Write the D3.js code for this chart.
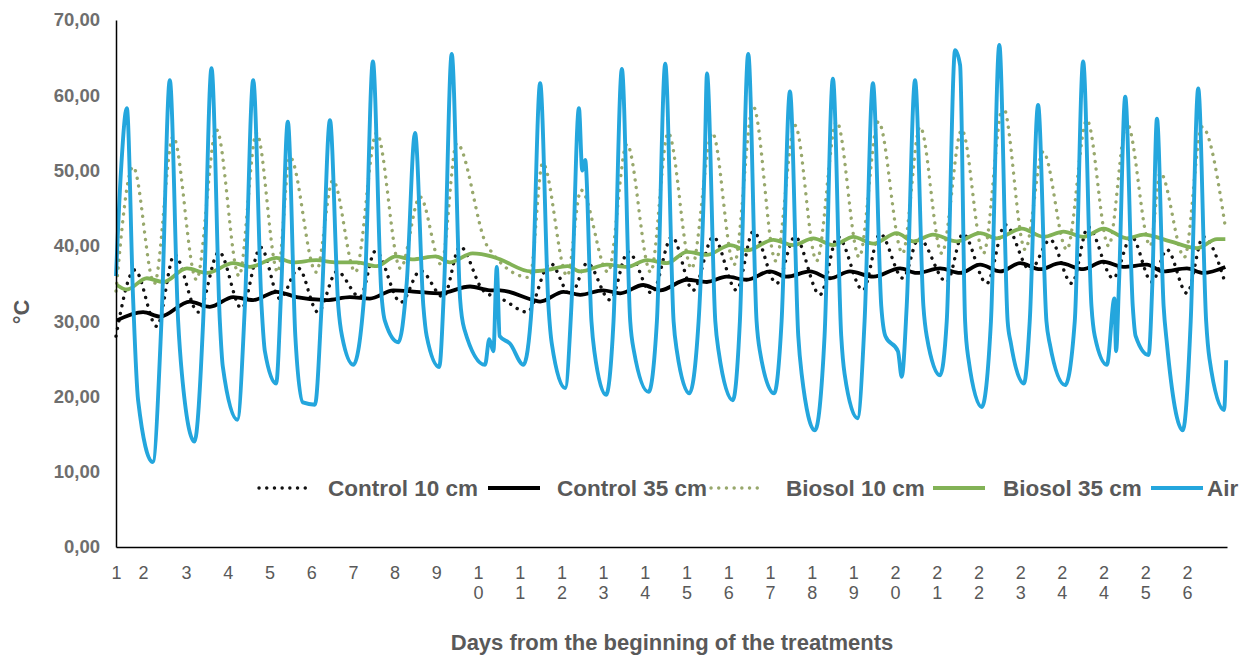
<!DOCTYPE html>
<html>
<head>
<meta charset="utf-8">
<script src="https://cdn.jsdelivr.net/npm/d3@7"></script>
<style>
  body { margin: 0; background: #fff; }
  text { font-family: "Liberation Sans", Arial, sans-serif; }
</style>
</head>
<body>
<svg id="chart" width="1245" height="658"></svg>
<script>
// values; t = days since the start of the record
const tickLabels = ["1","2","3","4","5","6","7","8","9","10","11","12","13","14","15","16","17","18","19","20","21","22","23","24","24","25","26"];
const tickDays = [0, 0.65, 1.68, 2.68, 3.68, 4.68, 5.68, 6.68, 7.68, 8.68, 9.68, 10.68, 11.68, 12.68, 13.68, 14.68, 15.68, 16.68, 17.68, 18.68, 19.68, 20.68, 21.68, 22.68, 23.68, 24.68, 25.68];
const yTicks = [0, 10, 20, 30, 40, 50, 60, 70];

const control10 = [
  [0.00, 28.0], [0.45, 36.8], [0.98, 29.3], [1.40, 38.8], [1.97, 31.2], [2.47, 39.2], [3.01, 31.7],
  [3.47, 39.8], [3.93, 33.0], [4.38, 37.0], [4.84, 31.2], [5.30, 36.6], [5.85, 33.2], [6.22, 39.3],
  [6.83, 32.5], [7.30, 36.7], [7.85, 33.2], [8.25, 39.9], [8.80, 34.1], [9.30, 32.8], [9.86, 31.2],
  [10.41, 37.7], [10.90, 33.5], [11.30, 37.7], [11.85, 32.8], [12.28, 39.2], [12.85, 33.7], [13.33, 41.2],
  [13.84, 34.1], [14.32, 41.2], [14.88, 34.1], [15.28, 41.9], [15.84, 35.0], [16.28, 41.2], [16.88, 33.5],
  [17.31, 41.2], [17.91, 34.1], [18.32, 41.6], [18.87, 35.7], [19.25, 41.0], [19.92, 35.2], [20.31, 41.6],
  [20.88, 35.0], [21.32, 42.8], [21.92, 36.8], [22.40, 40.8], [22.92, 35.0], [23.31, 42.5], [23.91, 35.7],
  [24.35, 41.2], [24.84, 35.2], [25.20, 39.5], [25.68, 33.7], [26.07, 41.2], [26.60, 35.0]
];

const control35 = [
  [0.02, 30.1], [0.65, 31.2], [1.06, 30.6], [1.77, 32.6], [2.25, 31.9], [2.81, 33.2], [3.29, 32.8],
  [3.85, 33.9], [4.33, 33.2], [5.05, 32.8], [5.61, 33.2], [6.09, 33.0], [6.65, 34.1], [7.21, 33.9],
  [7.77, 33.7], [8.49, 34.6], [8.97, 34.1], [9.21, 34.1], [10.01, 32.8], [10.17, 32.6], [10.73, 33.9],
  [11.13, 33.5], [11.68, 34.1], [12.09, 33.7], [12.64, 34.8], [13.05, 34.1], [13.69, 35.5], [14.17, 35.2],
  [14.64, 35.9], [15.12, 35.5], [15.68, 36.6], [16.08, 35.9], [16.64, 36.6], [17.12, 35.7], [17.60, 36.6],
  [18.16, 35.9], [18.80, 37.0], [19.20, 36.4], [19.76, 37.0], [20.24, 36.4], [20.72, 37.5], [21.20, 36.6],
  [21.68, 37.7], [22.16, 36.9], [22.64, 37.7], [23.19, 36.9], [23.67, 37.9], [24.15, 37.2], [24.72, 37.5],
  [25.11, 36.6], [25.68, 37.0], [26.07, 36.4], [26.60, 37.2]
];

const biosol10 = [
  [0.00, 34.0], [0.41, 50.5], [0.92, 35.0], [1.37, 54.5], [1.93, 35.5], [2.41, 55.4], [2.95, 36.0],
  [3.37, 55.0], [3.88, 36.5], [4.17, 51.8], [4.80, 36.5], [5.20, 48.7], [5.74, 36.5], [6.25, 55.0],
  [6.82, 37.0], [7.29, 46.5], [7.80, 37.5], [8.17, 53.6], [8.90, 40.0], [9.92, 35.8], [10.23, 51.0],
  [10.82, 36.0], [11.15, 47.4], [11.80, 36.5], [12.25, 53.5], [12.82, 36.5], [13.24, 55.0], [13.80, 37.0],
  [14.30, 55.0], [14.82, 37.5], [15.28, 58.5], [15.82, 38.0], [16.28, 56.0], [16.80, 38.0], [17.28, 56.5],
  [17.82, 38.5], [18.28, 56.5], [18.86, 39.0], [19.28, 55.8], [19.80, 39.0], [20.28, 55.4], [20.80, 39.0],
  [21.27, 58.5], [21.80, 39.5], [22.23, 52.5], [22.80, 39.5], [23.28, 56.7], [23.80, 40.0], [24.24, 56.3],
  [24.80, 40.0], [25.04, 49.7], [25.62, 38.5], [26.04, 55.8], [26.60, 42.5]
];

const biosol35 = [
  [0.02, 34.8], [0.26, 34.2], [0.74, 35.7], [1.13, 35.2], [1.70, 37.0], [2.18, 36.4], [2.81, 37.7],
  [3.21, 37.2], [3.85, 38.4], [4.25, 37.8], [4.80, 38.1], [5.29, 37.8], [5.77, 37.8], [6.25, 37.3],
  [6.71, 38.6], [7.10, 38.2], [7.67, 38.6], [8.00, 37.8], [8.55, 39.0], [9.00, 38.6], [9.21, 38.2],
  [9.95, 36.6], [10.35, 36.8], [10.83, 37.3], [11.13, 36.6], [11.77, 37.5], [12.25, 37.2], [12.73, 38.1],
  [13.21, 37.7], [13.69, 39.2], [14.17, 38.8], [14.73, 40.1], [15.13, 39.4], [15.76, 40.8], [16.24, 40.1],
  [16.72, 41.0], [17.20, 40.1], [17.68, 41.2], [18.16, 40.3], [18.72, 41.7], [19.12, 40.6], [19.59, 41.5],
  [20.16, 40.6], [20.72, 41.7], [21.12, 41.0], [21.72, 42.3], [22.24, 41.2], [22.72, 41.9], [23.20, 41.2],
  [23.68, 42.3], [24.24, 41.0], [24.64, 41.5], [25.28, 40.6], [25.92, 39.7], [26.40, 40.9], [26.60, 40.9]
];

const air = [
  [0.00, 36.0], [0.12, 50.0], [0.26, 58.3], [0.41, 33.0], [0.53, 19.5], [0.88, 11.3],
  [1.09, 30.0], [1.29, 62.0], [1.49, 30.0], [1.58, 23.0], [1.88, 14.0],
  [2.09, 30.0], [2.29, 63.6], [2.49, 30.0], [2.56, 24.0], [2.91, 16.9],
  [3.09, 32.0], [3.29, 62.0], [3.49, 32.0], [3.57, 26.0], [3.84, 21.7],
  [3.96, 34.0], [4.12, 56.5], [4.30, 28.0], [4.48, 19.2], [4.77, 18.9],
  [4.93, 32.0], [5.13, 56.7], [5.33, 32.0], [5.42, 28.0], [5.69, 24.2],
  [5.96, 34.0], [6.16, 64.5], [6.36, 34.0], [6.45, 30.0], [6.77, 27.2],
  [6.97, 35.0], [7.17, 55.0], [7.37, 32.0], [7.45, 28.0], [7.75, 23.9],
  [7.87, 35.0], [8.05, 65.5], [8.25, 33.0], [8.35, 29.0], [8.85, 24.2], [8.95, 27.6], [9.05, 26.0],
  [9.13, 37.2], [9.20, 28.0], [9.45, 27.0], [9.77, 24.2],
  [9.97, 32.0], [10.17, 61.6], [10.37, 32.0], [10.45, 27.0], [10.77, 21.1],
  [10.92, 32.0], [11.10, 58.3], [11.18, 50.0], [11.25, 51.4], [11.40, 30.0], [11.47, 26.0], [11.75, 20.2],
  [11.93, 30.0], [12.13, 63.5], [12.33, 30.0], [12.42, 26.0], [12.77, 20.6],
  [12.97, 30.0], [13.17, 64.2], [13.37, 30.0], [13.45, 26.0], [13.75, 20.4],
  [13.97, 30.0], [14.12, 52.0], [14.17, 62.9], [14.37, 30.0], [14.45, 26.0], [14.79, 19.5],
  [14.96, 30.0], [15.16, 65.5], [15.36, 30.0], [15.44, 26.0], [15.78, 20.4],
  [15.96, 30.0], [16.16, 60.5], [16.36, 28.0], [16.44, 23.0], [16.76, 15.5],
  [16.99, 28.0], [17.19, 62.2], [17.39, 28.0], [17.47, 23.0], [17.78, 17.1],
  [17.95, 30.0], [18.15, 61.6], [18.35, 32.0], [18.45, 28.0], [18.75, 26.0], [18.84, 22.6],
  [18.96, 32.0], [19.16, 62.0], [19.36, 32.0], [19.44, 28.0], [19.76, 22.8],
  [19.92, 30.0], [20.12, 66.0], [20.24, 64.0], [20.36, 30.0], [20.44, 25.0], [20.76, 18.6],
  [20.98, 30.0], [21.18, 66.7], [21.38, 30.0], [21.46, 27.0], [21.77, 21.7],
  [21.91, 30.0], [22.11, 58.7], [22.31, 30.0], [22.39, 27.0], [22.76, 21.5],
  [22.99, 30.0], [23.19, 64.5], [23.39, 32.0], [23.47, 28.0], [23.76, 24.2], [23.94, 33.0], [23.98, 26.0],
  [24.05, 35.0], [24.20, 59.8], [24.38, 32.0], [24.45, 28.0], [24.76, 25.5],
  [24.85, 35.0], [24.96, 56.9], [25.12, 32.0], [25.20, 27.0], [25.58, 15.5],
  [25.77, 30.0], [25.95, 60.9], [26.14, 30.0], [26.22, 25.0], [26.57, 18.2], [26.62, 24.8]
];

const seriesNames = ["Control 10 cm", "Control 35 cm", "Biosol 10 cm", "Biosol 35 cm", "Air"];

// ---- drawing ----
const svg = d3.select("#chart");
const plot = {left: 116, right: 1227, top: 20, bottom: 547};

const x = d3.scaleLinear().domain([0, 26.64]).range([plot.left, plot.right]);
const y = d3.scaleLinear().domain([0, 70]).range([plot.bottom, plot.top]);

const series = [
  {name: seriesNames[0], data: control10, color: "#111", width: 3.4, dash: "0.1 7.6"},
  {name: seriesNames[1], data: control35, color: "#000", width: 3.8, dash: null},
  {name: seriesNames[2], data: biosol10, color: "#98a86c", width: 3.4, dash: "0.1 7.6"},
  {name: seriesNames[3], data: biosol35, color: "#82b256", width: 3.8, dash: null},
  {name: seriesNames[4], data: air, color: "#24a6dd", width: 3.9, dash: null}
];

const line = d3.line()
  .x(d => x(d[0]))
  .y(d => y(d[1]))
  .curve(d3.curveMonotoneX);

svg.append("g")
  .selectAll("path")
  .data(series)
  .join("path")
  .attr("d", d => line(d.data))
  .attr("fill", "none")
  .attr("stroke", d => d.color)
  .attr("stroke-width", d => d.width)
  .attr("stroke-linecap", d => d.dash ? "round" : "butt")
  .attr("stroke-linejoin", "round")
  .attr("stroke-dasharray", d => d.dash);

// y axis
const yAxis = svg.append("g")
  .attr("transform", `translate(${plot.left},0)`)
  .call(d3.axisLeft(y).tickValues(yTicks).tickSize(0).tickPadding(16)
    .tickFormat(d => d3.format(".2f")(d).replace(".", ",")));
yAxis.select(".domain").attr("stroke", "#000").attr("stroke-width", 1.5);
yAxis.selectAll("text")
  .attr("font-family", "Liberation Sans, Arial, sans-serif")
  .attr("font-size", 18.5)
  .attr("font-weight", "bold")
  .attr("fill", "#6e6e6e");

// x axis, multi-digit labels stacked one digit per row
const xAxis = svg.append("g")
  .attr("transform", `translate(0,${plot.bottom})`)
  .call(d3.axisBottom(x).tickValues(tickDays).tickSize(0).tickFormat((d, i) => tickLabels[i]));
xAxis.select(".domain").attr("stroke", "#000").attr("stroke-width", 1.5);
xAxis.selectAll(".tick text").each(function (d, i) {
  const t = d3.select(this);
  const chars = tickLabels[i].split("");
  t.text(null)
    .attr("y", 0)
    .attr("dy", null)
    .attr("font-family", "Liberation Sans Narrow, Arial Narrow, sans-serif")
    .attr("font-size", 18)
    .attr("fill", "#595959");
  chars.forEach((c, k) => {
    t.append("tspan").attr("x", 0).attr("y", 32 + k * 20).text(c);
  });
});

// axis titles
svg.append("text")
  .attr("transform", "translate(29,312) rotate(-90)")
  .attr("text-anchor", "middle")
  .attr("font-size", 22)
  .attr("font-weight", "bold")
  .attr("fill", "#595959")
  .text("°C");

svg.append("text")
  .attr("x", 672)
  .attr("y", 650)
  .attr("text-anchor", "middle")
  .attr("font-size", 22)
  .attr("font-weight", "bold")
  .attr("fill", "#595959")
  .text("Days from the beginning of the treatments");

// legend: symbol then label; symbol and label left edges as in the reference
const legendSymX = [259, 488, 711, 933, 1151];
const legendTextX = [328, 557, 786, 1003, 1207];
const legend = svg.append("g").attr("transform", "translate(0,488)");
series.forEach((s, i) => {
  legend.append("line")
    .attr("x1", legendSymX[i]).attr("x2", legendSymX[i] + 52)
    .attr("y1", 0).attr("y2", 0)
    .attr("stroke", s.color)
    .attr("stroke-width", s.dash ? 3.4 : 4)
    .attr("stroke-linecap", s.dash ? "round" : "butt")
    .attr("stroke-dasharray", s.dash);
  legend.append("text")
    .attr("x", legendTextX[i])
    .attr("y", 8)
    .attr("font-size", 22.5)
    .attr("font-weight", "bold")
    .attr("fill", "#595959")
    .text(s.name);
});
</script>
</body>
</html>
